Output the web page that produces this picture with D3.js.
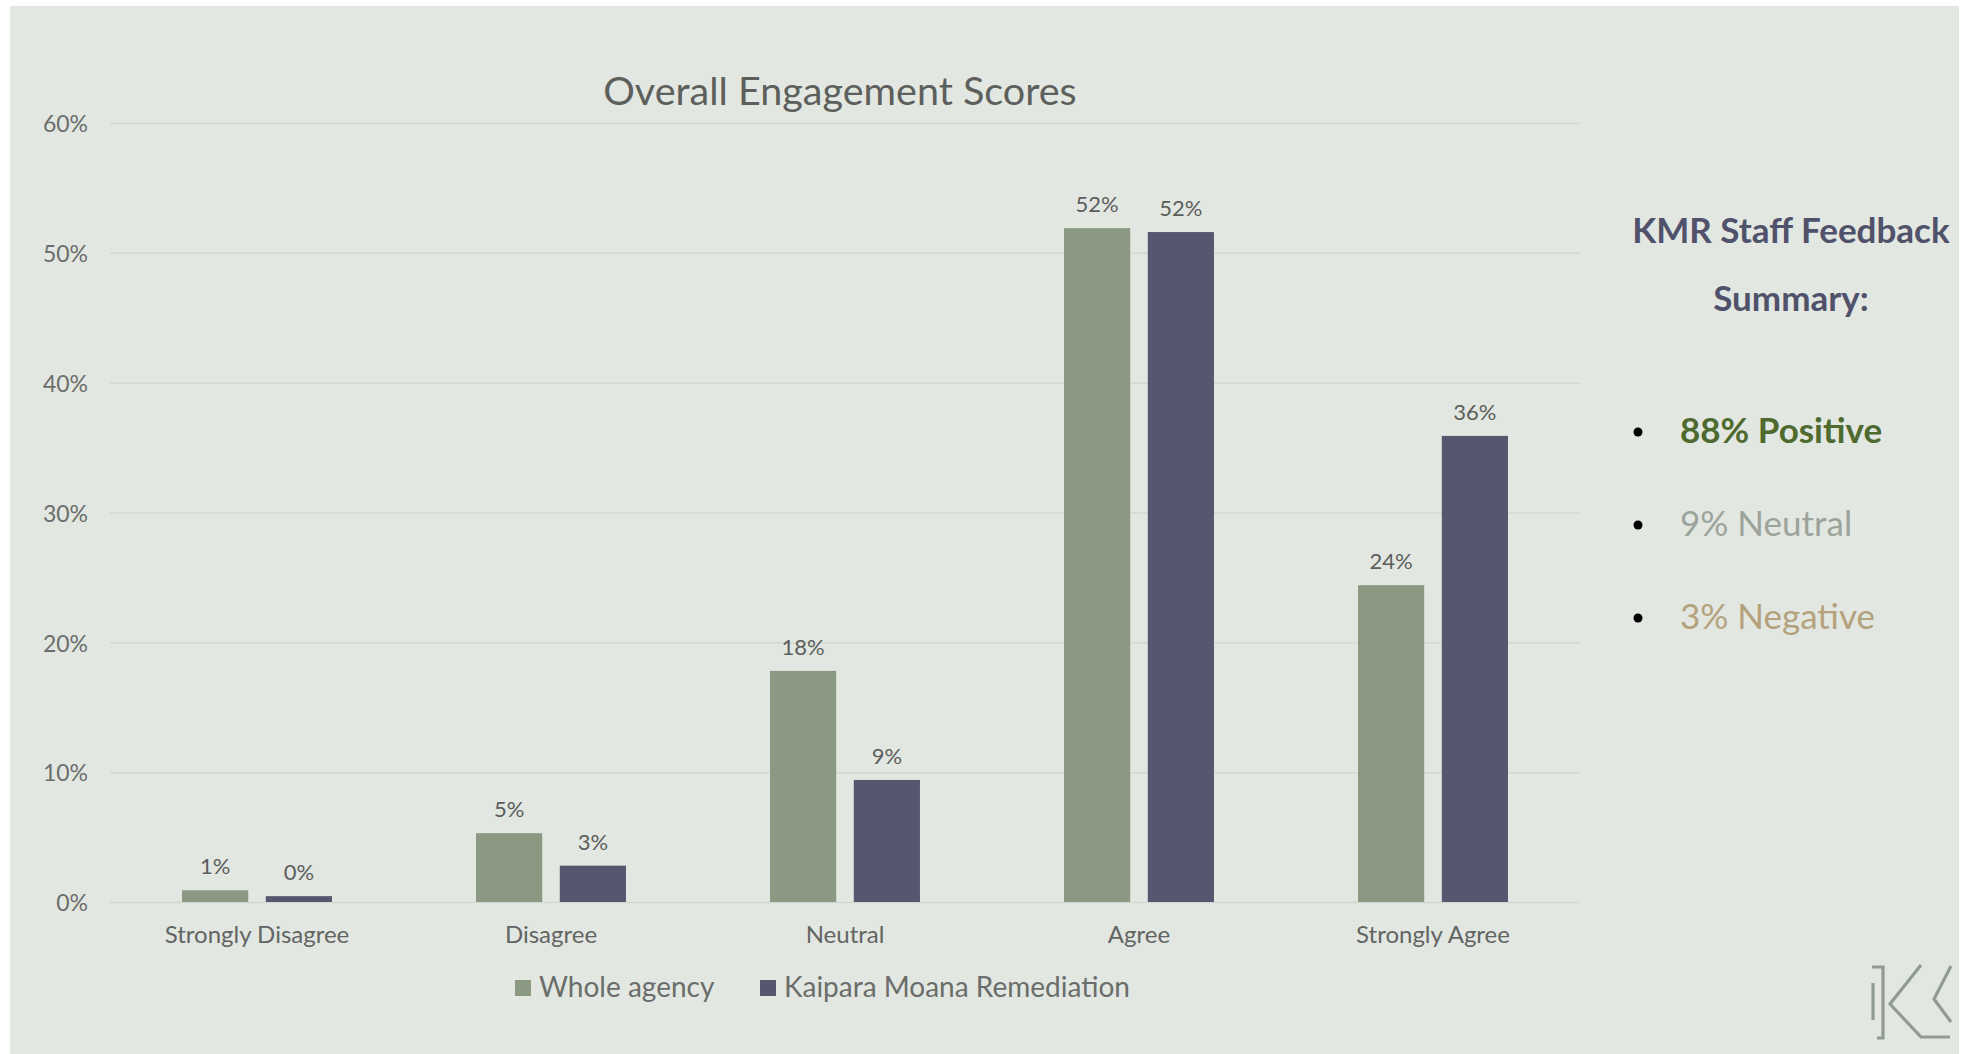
<!DOCTYPE html>
<html><head><meta charset="utf-8">
<script src="https://cdn.jsdelivr.net/npm/d3@7"></script>
<style>
body{margin:0;background:#ffffff;}
svg{display:block;font-family:Lato, "Open Sans", sans-serif;}
</style>
</head><body>
<svg id="chart" width="1966" height="1054"></svg>
<script>
// ---- data ----
const categories = ["Strongly Disagree", "Disagree", "Neutral", "Agree", "Strongly Agree"];
const seriesNames = ["Whole agency", "Kaipara Moana Remediation"];
const wholeAgency = [0.9, 5.3, 17.8, 51.9, 24.4];
const kaiparaMoana = [0.45, 2.8, 9.4, 51.6, 35.9];
const yTicks = [0, 10, 20, 30, 40, 50, 60];
const summaryTitle = ["KMR Staff Feedback", "Summary:"];
const summaryItems = ["88% Positive", "9% Neutral", "3% Negative"];

const seriesColors = ["#8b9882", "#56566f"];
const summaryColors = ["#4e6a2f", "#9ca39b", "#b4a27c"];
const summaryWeights = ["bold", "normal", "normal"];

const svg = d3.select("#chart");

// background panel
svg.append("rect").attr("x", 10).attr("y", 6).attr("width", 1949).attr("height", 1048).attr("fill", "#e2e7e1");

const plot = {left: 110, right: 1580, top: 123, bottom: 902};

const x0 = d3.scaleBand().domain(categories).range([plot.left, plot.right]).paddingInner(0.49).paddingOuter(0.245);
const x1 = d3.scaleBand().domain(seriesNames).range([0, x0.bandwidth()]).paddingInner(0.21).paddingOuter(0);
const y = d3.scaleLinear().domain([0, 60]).range([plot.bottom, plot.top]);

// y axis with gridlines
const yAxis = svg.append("g").attr("transform", `translate(${plot.left},0)`)
  .call(d3.axisLeft(y).tickValues(yTicks).tickSize(-(plot.right - plot.left)).tickPadding(22).tickFormat(d => d + "%"));
yAxis.select(".domain").remove();
yAxis.selectAll(".tick line").attr("stroke", "#d3d9d2").attr("stroke-width", 1.5);
yAxis.selectAll(".tick text").attr("fill", "#6b6e6b").attr("font-size", 23).attr("font-family", "Lato").attr("dy", "0.38em");

// x axis labels
const xAxis = svg.append("g").attr("transform", `translate(0,${plot.bottom})`)
  .call(d3.axisBottom(x0).tickSize(0).tickPadding(24));
xAxis.select(".domain").remove();
xAxis.selectAll(".tick text").attr("fill", "#626562").attr("font-size", 24).attr("font-family", "Lato");

// bars
const rows = categories.map((c, i) => ({cat: c, vals: [wholeAgency[i], kaiparaMoana[i]]}));
const groups = svg.append("g").selectAll("g").data(rows).join("g")
  .attr("transform", d => `translate(${x0(d.cat)},0)`);
groups.selectAll("rect").data(d => d.vals.map((v, j) => ({s: seriesNames[j], v, j}))).join("rect")
  .attr("x", d => x1(d.s)).attr("width", x1.bandwidth())
  .attr("y", d => y(d.v)).attr("height", d => y(0) - y(d.v))
  .attr("fill", d => seriesColors[d.j]);
groups.selectAll("text").data(d => d.vals.map((v, j) => ({s: seriesNames[j], v, j}))).join("text")
  .attr("x", d => x1(d.s) + x1.bandwidth() / 2).attr("y", d => y(d.v) - 16)
  .attr("text-anchor", "middle").attr("font-size", 22).attr("fill", "#5b5e5b")
  .text(d => Math.round(d.v) + "%");

// title
svg.append("text").attr("x", 840).attr("y", 105).attr("text-anchor", "middle")
  .attr("font-size", 39.5).attr("fill", "#5c5f5c").text("Overall Engagement Scores");

// legend
const legendX = [515, 760];
const legend = svg.append("g").selectAll("g").data(seriesNames).join("g")
  .attr("transform", (d, i) => `translate(${legendX[i]},980)`);
legend.append("rect").attr("width", 16).attr("height", 16).attr("fill", (d, i) => seriesColors[i]);
legend.append("text").attr("x", 24).attr("y", 17).attr("font-size", 28).attr("fill", "#6a6d6a").text(d => d);

// summary panel
svg.append("g").selectAll("text").data(summaryTitle).join("text")
  .attr("x", 1791).attr("y", (d, i) => 243 + i * 68).attr("text-anchor", "middle")
  .attr("font-size", 35).attr("font-weight", "bold").attr("fill", "#50516a").text(d => d);

const items = svg.append("g").selectAll("g").data(summaryItems).join("g")
  .attr("transform", (d, i) => `translate(0,${443 + i * 93})`);
items.append("circle").attr("cx", 1638).attr("cy", -11).attr("r", 4.5).attr("fill", "#000");
items.append("text").attr("x", 1680).attr("y", 0).attr("font-size", 35)
  .attr("font-weight", (d, i) => summaryWeights[i]).attr("fill", (d, i) => summaryColors[i]).text(d => d);

// logo
const logo = svg.append("g").attr("fill", "none").attr("stroke", "#919c90").attr("stroke-width", 3.2).attr("stroke-linejoin", "miter");
logo.append("path").attr("d", "M1872,967 H1883 V1038 H1877");
logo.append("path").attr("d", "M1873,983 V1020");
logo.append("path").attr("d", "M1921,965 L1890,1004 L1921,1037 H1950");
logo.append("path").attr("d", "M1951,966 L1934,999 L1951,1022");
</script>
</body></html>
